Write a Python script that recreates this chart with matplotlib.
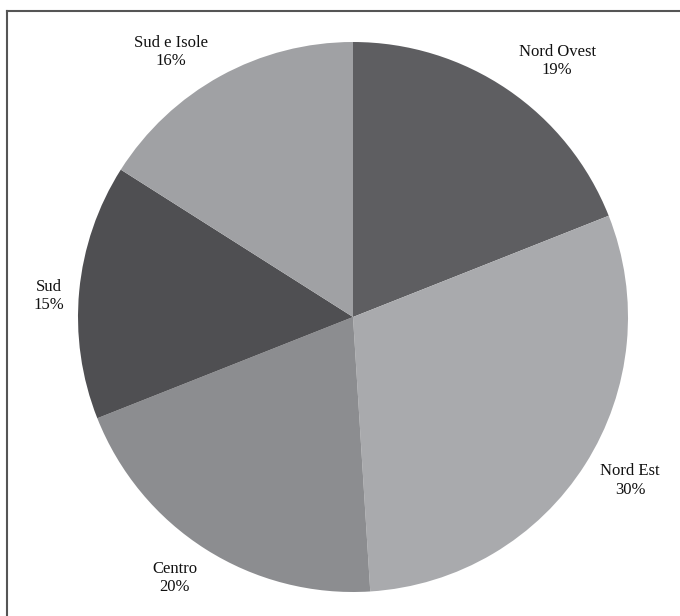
import numpy as np
import matplotlib.pyplot as plt
from matplotlib.lines import Line2D

# Regional shares (%), clockwise from 12 o'clock
regions = ["Nord Ovest", "Nord Est", "Centro", "Sud", "Sud e Isole"]
shares = [19, 30, 20, 15, 16]
colors = ["#5e5e61", "#a9aaad", "#8c8d90", "#4f4f52", "#a0a1a4"]
# label placement: distance (radius multiples) and angle nudge (deg) from wedge middle
label_dist = [1.19, 1.17, 1.15, 1.11, 1.17]
label_nudge = [-4.4, 1.9, -1.9, 1.5, 5.7]

W, H = 680, 616
fig = plt.figure(figsize=(W / 100, H / 100), dpi=100)
fig.patch.set_facecolor("white")
ax = fig.add_axes([0, 0, 1, 1])

cx, cy, r = 353, 317, 275  # pie centre/radius in pixels (from top-left)

wedges, _ = ax.pie(shares, colors=colors, startangle=90, counterclock=False,
                   radius=1.0, wedgeprops=dict(linewidth=0))
ax.set_aspect("auto")
ax.set_xlim(-cx / r, (W - cx) / r)
ax.set_ylim(-(H - cy) / r, cy / r)
ax.axis("off")

for w, name, s, d, nudge in zip(wedges, regions, shares, label_dist, label_nudge):
    mid = np.deg2rad((w.theta1 + w.theta2) / 2 + nudge)
    ax.text(d * np.cos(mid), d * np.sin(mid), f"{name}\n{s}%",
            ha="center", va="center", fontsize=12, family="Liberation Serif",
            color="#111111", linespacing=1.2)

# left and top frame lines of the cropped original
fig.add_artist(Line2D([7 / W, 7 / W], [0, 1 - 11 / H], transform=fig.transFigure,
                      color="#555555", lw=1.5))
fig.add_artist(Line2D([7 / W, 1], [1 - 11 / H, 1 - 11 / H], transform=fig.transFigure,
                      color="#555555", lw=1.5))

fig.savefig("out.png", dpi=100)
